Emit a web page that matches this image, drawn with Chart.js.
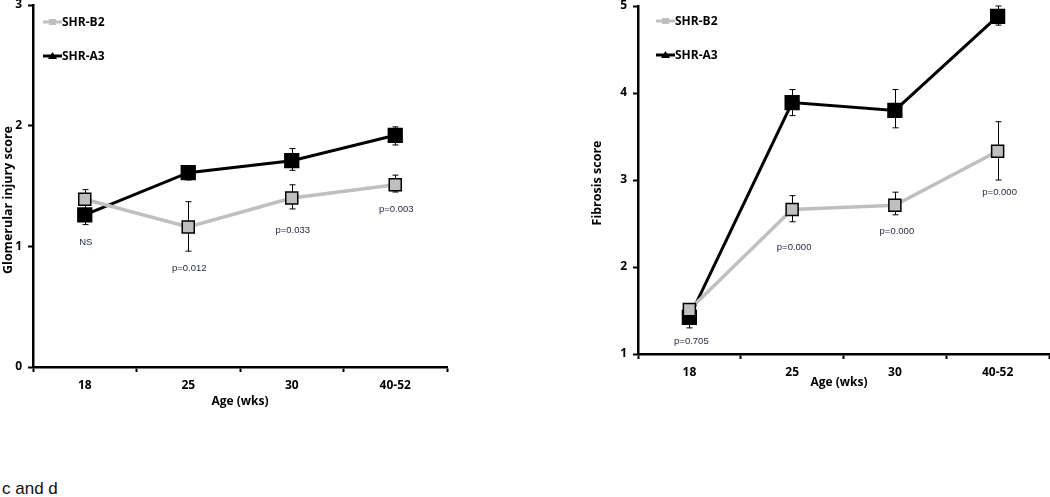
<!DOCTYPE html>
<html><head><meta charset="utf-8">
<script src="https://cdn.jsdelivr.net/npm/chart.js@4"></script>
<style>
body{margin:0;width:1050px;height:497px;overflow:hidden;background:#fff;position:relative;}
#c1{position:absolute;left:0;top:-10px;}
#c2{position:absolute;left:540px;top:-10px;}
#cap{position:absolute;left:2px;top:479px;font-family:"Liberation Sans",Arial,sans-serif;font-size:17px;line-height:20px;color:#111;}
</style></head><body>
<canvas id="c1" width="470" height="430"></canvas>
<canvas id="c2" width="540" height="410"></canvas>
<div id="cap">c and d</div>
<script>
// ---- data ----
const ageLabels = ['18', '25', '30', '40-52'];
const seriesNames = ['SHR-B2', 'SHR-A3'];

// Glomerular injury score
const glomB2 = [1.39, 1.16, 1.40, 1.51];
const glomB2Up = [1.47, 1.37, 1.51, 1.59];
const glomB2Down = [1.31, 0.96, 1.31, 1.45];
const glomA3 = [1.26, 1.61, 1.71, 1.92];
const glomA3Up = [1.34, 1.67, 1.81, 1.99];
const glomA3Down = [1.18, 1.55, 1.63, 1.84];
const glomPText = ['NS', 'p=0.012', 'p=0.033', 'p=0.003'];
const glomPAt = [1.035, 0.82, 1.13, 1.31];
const glomTicks = [0, 1, 2, 3];

// Fibrosis score
const fibB2 = [1.51, 2.66, 2.71, 3.33];
const fibB2Up = [1.56, 2.82, 2.86, 3.67];
const fibB2Down = [1.45, 2.52, 2.60, 3.00];
const fibA3 = [1.42, 3.89, 3.80, 4.88];
const fibA3Up = [1.50, 4.04, 4.04, 5.00];
const fibA3Down = [1.30, 3.74, 3.60, 4.78];
const fibPText = ['p=0.705', 'p=0.000', 'p=0.000', 'p=0.000'];
const fibPAt = [1.14, 2.22, 2.405, 2.86];
const fibTicks = [1, 2, 3, 4, 5];

const FONT = '"Open Sans", Lato, sans-serif';
const GREY = '#bfbfbf';

// ---- plugins ----
const errorBars = {
  id: 'errorBars',
  beforeDatasetsDraw(chart) {
    const ctx = chart.ctx, x = chart.scales.x, y = chart.scales.y;
    ctx.save();
    ctx.strokeStyle = '#000';
    ctx.lineWidth = 1;
    chart.data.datasets.forEach(ds => {
      ds.values.forEach((v, i) => {
        const px = Math.round(x.getPixelForValue(i)) + 0.5;
        const pu = y.getPixelForValue(ds.errUp[i]);
        const pd = y.getPixelForValue(ds.errDown[i]);
        ctx.beginPath();
        ctx.moveTo(px, pu); ctx.lineTo(px, pd);
        ctx.moveTo(px - 3, pu); ctx.lineTo(px + 3, pu);
        ctx.moveTo(px - 3, pd); ctx.lineTo(px + 3, pd);
        ctx.stroke();
      });
    });
    ctx.restore();
  }
};

const extras = {
  id: 'extras',
  afterDraw(chart, args, o) {
    const ctx = chart.ctx, x = chart.scales.x, y = chart.scales.y;
    ctx.save();
    // p-value labels
    ctx.font = '9.5px "Liberation Sans", Arial, sans-serif';
    ctx.fillStyle = '#262a44';
    ctx.textAlign = 'center';
    ctx.textBaseline = 'middle';
    o.pText.forEach((t, i) => {
      ctx.fillText(t, x.getPixelForValue(i) + o.pDx, y.getPixelForValue(o.pAt[i]));
    });
    // legend
    ctx.textAlign = 'left';
    ctx.font = 'bold 12px ' + FONT;
    chart.data.datasets.forEach((ds, k) => {
      const lx = o.legX, ly = o.legY[k];
      ctx.strokeStyle = ds.borderColor;
      ctx.fillStyle = ds.borderColor;
      ctx.lineWidth = 3;
      ctx.beginPath(); ctx.moveTo(lx, ly); ctx.lineTo(lx + 19, ly); ctx.stroke();
      if (k === 0) {
        ctx.fillRect(lx + 6, ly - 3, 7, 6);
      } else {
        ctx.beginPath();
        ctx.moveTo(lx + 9.5, ly - 4); ctx.lineTo(lx + 14, ly + 3); ctx.lineTo(lx + 5, ly + 3);
        ctx.closePath(); ctx.fill();
      }
      ctx.fillStyle = '#000';
      ctx.fillText(ds.label, lx + 19, ly + 1);
    });
    // axis titles
    ctx.font = 'bold 12px ' + FONT;
    ctx.textAlign = 'center';
    ctx.fillText(o.xTitle, o.xTitleX, o.xTitleY);
    ctx.translate(o.yTitleX, o.yTitleY);
    ctx.rotate(-Math.PI / 2);
    ctx.font = 'bold 12.5px ' + FONT;
    ctx.fillText(o.yTitle, 0, 0);
    ctx.restore();
  }
};

function makeChart(id, b2, b2u, b2d, a3, a3u, a3d, ticks, cfg) {
  const datasets = [
    { label: seriesNames[0], data: b2, values: b2, errUp: b2u, errDown: b2d,
      borderColor: GREY, backgroundColor: GREY, borderWidth: 3.5,
      pointStyle: 'rect', pointRadius: 8.5, pointBackgroundColor: GREY,
      pointBorderColor: '#000', pointBorderWidth: 1.5, tension: 0 },
    { label: seriesNames[1], data: a3, values: a3, errUp: a3u, errDown: a3d,
      borderColor: '#000', backgroundColor: '#000', borderWidth: 3,
      pointStyle: 'rect', pointRadius: 10.8, pointBackgroundColor: '#000',
      pointBorderColor: '#000', pointBorderWidth: 0, tension: 0 }
  ];
  return new Chart(document.getElementById(id), {
    type: 'line',
    data: { labels: ageLabels, datasets },
    plugins: [errorBars, extras],
    options: {
      responsive: false,
      animation: false,
      layout: { padding: cfg.padding },
      plugins: { legend: { display: false }, tooltip: { enabled: false }, extras: cfg.extras },
      scales: {
        x: {
          offset: true,
          grid: { offset: true, drawOnChartArea: false, drawTicks: true, tickLength: 5, tickColor: '#000', tickWidth: 2 },
          border: { display: true, color: '#000', width: 2.5 },
          ticks: { color: '#000', font: { family: FONT, size: 12, weight: 'bold' }, padding: 6, maxRotation: 0 },
          afterFit(s) { s.height = cfg.xH; }
        },
        y: {
          min: ticks[0], max: ticks[ticks.length - 1],
          afterBuildTicks(s) { s.ticks = ticks.map(v => ({ value: v })); },
          grid: { drawOnChartArea: false, drawTicks: true, tickLength: 5, tickColor: '#000', tickWidth: 2 },
          border: { display: true, color: '#000', width: 2.5 },
          ticks: { color: '#000', font: { family: FONT, size: 12, weight: 'bold' }, padding: 6 },
          afterFit(s) { s.width = cfg.yW; }
        }
      }
    }
  });
}

makeChart('c1', glomB2, glomB2Up, glomB2Down, glomA3, glomA3Up, glomA3Down, glomTicks, {
  padding: { top: 15, right: 23, left: 0, bottom: 0 },
  xH: 53, yW: 33,
  extras: { pText: glomPText, pAt: glomPAt, pDx: 1, legX: 43, legY: [32, 66],
            xTitle: 'Age (wks)', xTitleX: 240, xTitleY: 412,
            yTitle: 'Glomerular injury score', yTitleX: 8, yTitleY: 210 }
});

makeChart('c2', fibB2, fibB2Up, fibB2Down, fibA3, fibA3Up, fibA3Down, fibTicks, {
  padding: { top: 16, right: 31, left: 0, bottom: 0 },
  xH: 46, yW: 98,
  extras: { pText: fibPText, pAt: fibPAt, pDx: 2, legX: 116, legY: [31, 65],
            xTitle: 'Age (wks)', xTitleX: 299, xTitleY: 393,
            yTitle: 'Fibrosis score', yTitleX: 57, yTitleY: 193 }
});
</script>
</body></html>
